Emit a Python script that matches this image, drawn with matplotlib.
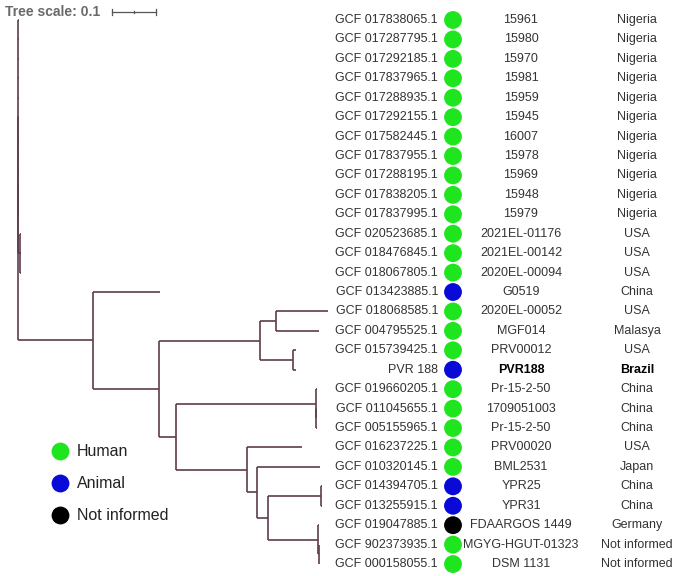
import matplotlib
matplotlib.use("Agg")
import matplotlib.pyplot as plt

plt.rcParams['font.family'] = ['Liberation Sans', 'DejaVu Sans']

# ---------------- data ----------------
accessions = [
    "GCF 017838065.1", "GCF 017287795.1", "GCF 017292185.1", "GCF 017837965.1",
    "GCF 017288935.1", "GCF 017292155.1", "GCF 017582445.1", "GCF 017837955.1",
    "GCF 017288195.1", "GCF 017838205.1", "GCF 017837995.1", "GCF 020523685.1",
    "GCF 018476845.1", "GCF 018067805.1", "GCF 013423885.1", "GCF 018068585.1",
    "GCF 004795525.1", "GCF 015739425.1", "PVR 188", "GCF 019660205.1",
    "GCF 011045655.1", "GCF 005155965.1", "GCF 016237225.1", "GCF 010320145.1",
    "GCF 014394705.1", "GCF 013255915.1", "GCF 019047885.1", "GCF 902373935.1",
    "GCF 000158055.1",
]
strains = [
    "15961", "15980", "15970", "15981", "15959", "15945", "16007", "15978",
    "15969", "15948", "15979", "2021EL-01176", "2021EL-00142", "2020EL-00094",
    "G0519", "2020EL-00052", "MGF014", "PRV00012", "PVR188", "Pr-15-2-50",
    "1709051003", "Pr-15-2-50", "PRV00020", "BML2531", "YPR25", "YPR31",
    "FDAARGOS 1449", "MGYG-HGUT-01323", "DSM 1131",
]
countries = [
    "Nigeria", "Nigeria", "Nigeria", "Nigeria", "Nigeria", "Nigeria", "Nigeria",
    "Nigeria", "Nigeria", "Nigeria", "Nigeria", "USA", "USA", "USA", "China",
    "USA", "Malasya", "USA", "Brazil", "China", "China", "China", "USA", "Japan",
    "China", "China", "Germany", "Not informed", "Not informed",
]
hosts = [
    "Human", "Human", "Human", "Human", "Human", "Human", "Human", "Human",
    "Human", "Human", "Human", "Human", "Human", "Human", "Animal", "Human",
    "Human", "Human", "Animal", "Human", "Human", "Human", "Human", "Human",
    "Animal", "Animal", "Not informed", "Human", "Human",
]
highlight = "PVR 188"
host_categories = ["Human", "Animal", "Not informed"]
host_colors = {"Human": "#1fe51f", "Animal": "#0a0ad8", "Not informed": "#000000"}

# Tree (leaf names are row indices), branch lengths in substitutions/site
newick = (
    "(((0:0.002,1:0.002,2:0.002,3:0.002,4:0.002,5:0.002,6:0.002,7:0.002,"
    "8:0.002,9:0.002,10:0.002):0.001,(11:0.002,12:0.002,13:0.002):0.004):0.0,"
    "(14:0.152,(((15:0.120,16:0.098):0.036,(17:0.007,18:0.007):0.075):0.2295,"
    "((19:0.003,(20:0.002,21:0.002):0.001):0.318,"
    "(22:0.125,(23:0.143,((24:0.002,25:0.002):0.120,"
    "(26:0.003,(27:0.002,28:0.002):0.001):0.114):0.025):0.023):0.161):0.039):0.150):0.170);"
)
tree_scale = 0.1


# ---------------- newick parser ----------------
def parse_newick(s):
    s = s.strip().rstrip(";")
    pos = 0

    def parse_node():
        nonlocal pos
        node = {"children": [], "name": None, "length": 0.0}
        if s[pos] == "(":
            pos += 1
            while True:
                node["children"].append(parse_node())
                if s[pos] == ",":
                    pos += 1
                    continue
                if s[pos] == ")":
                    pos += 1
                    break
        start = pos
        while pos < len(s) and s[pos] not in ":,()":
            pos += 1
        name = s[start:pos].strip()
        node["name"] = name if name else None
        if pos < len(s) and s[pos] == ":":
            pos += 1
            start = pos
            while pos < len(s) and s[pos] not in ",()":
                pos += 1
            node["length"] = float(s[start:pos])
        return node

    return parse_node()


root = parse_newick(newick)


def layout(node, x0):
    node["x"] = x0 + node["length"]
    if not node["children"]:
        node["y"] = int(node["name"])
    else:
        for c in node["children"]:
            layout(c, node["x"])
        node["y"] = 0.5 * (node["children"][0]["y"] + node["children"][-1]["y"])


root["length"] = 0.0
layout(root, 0.0)

# ---------------- figure ----------------
W, H = 679, 576
fig = plt.figure(figsize=(W / 100, H / 100), dpi=100)
ax = fig.add_axes([0, 0, 1, 1])
ax.axis("off")

px_per_unit = 440.0
x_off = 18.0
ax.set_xlim(-x_off / px_per_unit, (W - x_off) / px_per_unit)
row_h = 19.43
y_top = 20.0
ax.set_ylim((H - y_top) / row_h, -y_top / row_h)

line_color = "#5e3c4c"
lw = 1.2


def draw(node):
    if node["children"]:
        ys = [c["y"] for c in node["children"]]
        ax.plot([node["x"], node["x"]], [min(ys), max(ys)], color=line_color,
                lw=lw, solid_capstyle="butt")
        for c in node["children"]:
            ax.plot([node["x"], c["x"]], [c["y"], c["y"]], color=line_color,
                    lw=lw, solid_capstyle="butt")
            draw(c)


draw(root)


def px2x(px):
    return (px - x_off) / px_per_unit


text_color = "#333333"
fs = 9
rows = list(range(len(accessions)))
for i in rows:
    bold = accessions[i] == highlight
    ax.text(px2x(438), i, accessions[i], ha="right", va="center", fontsize=fs,
            color=text_color)
    ax.text(px2x(521), i, strains[i], ha="center", va="center", fontsize=fs,
            color="#000000" if bold else text_color,
            fontweight="bold" if bold else "normal")
    ax.text(px2x(637), i, countries[i], ha="center", va="center", fontsize=fs,
            color="#000000" if bold else text_color,
            fontweight="bold" if bold else "normal")

ax.scatter([px2x(453)] * len(rows), rows,
           c=[host_colors[h] for h in hosts], s=165, zorder=3, linewidths=0)

# legend
leg_y = [451, 483, 515]
for cat, py in zip(host_categories, leg_y):
    ax.scatter([60 / W], [1 - py / H], transform=ax.transAxes, s=165,
               c=host_colors[cat], linewidths=0, zorder=3)
    ax.text(77 / W, 1 - py / H, cat, transform=ax.transAxes, ha="left",
            va="center", fontsize=11.5, color="#222222")

# tree scale
sy = -8 / row_h
ax.text(5 / W, 1 - 12 / H, "Tree scale: " + str(tree_scale),
        transform=ax.transAxes, ha="left", va="center", fontsize=10,
        fontweight="bold", color="#6a6a6a")
x0s = px2x(112)
ax.plot([x0s, x0s + tree_scale], [sy, sy], color="#555555", lw=0.9)
for xx in [x0s, x0s + tree_scale / 2, x0s + tree_scale]:
    tick = 0.14 if xx != x0s + tree_scale / 2 else 0.07
    ax.plot([xx, xx], [sy - tick, sy + tick], color="#555555", lw=0.9)

fig.savefig("out.png", dpi=100)
